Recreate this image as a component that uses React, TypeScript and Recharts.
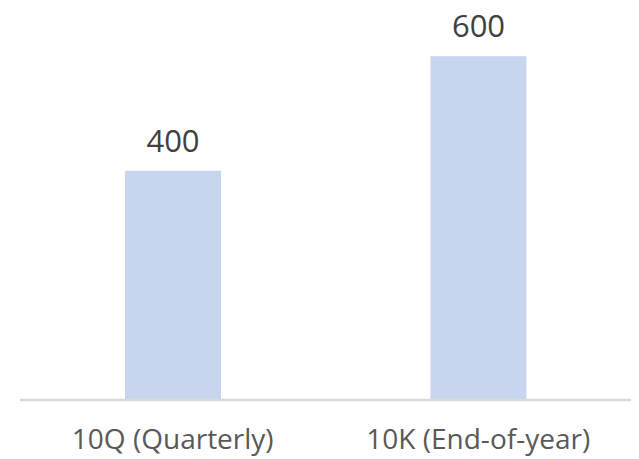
import {Bar, BarChart, LabelList, XAxis, YAxis} from "recharts";

const categories = ["10Q (Quarterly)", "10K (End-of-year)"];
const values = [400, 600];

const data = categories.map((name, i) => ({name, value: values[i]}));

export default function App() {
    return (
        <div style={{position: "absolute", top: 0, left: 0, width: 639, height: 459, fontFamily: "'Open Sans', sans-serif"}}>
            <BarChart
                width={639}
                height={459}
                data={data}
                margin={{top: 27.5, right: 8, bottom: 0, left: 20}}
            >
                <XAxis
                    dataKey="name"
                    height={59}
                    tickLine={false}
                    tickSize={0}
                    tickMargin={29}
                    axisLine={{stroke: "#D9D9D9", strokeWidth: 2.5}}
                    tick={{fill: "#595959", fontSize: 28}}
                    interval={0}
                />
                <YAxis hide domain={[0, 650]} />
                <Bar dataKey="value" fill="#C8D5EE" barSize={96} isAnimationActive={false}>
                    <LabelList dataKey="value" position="top" offset={19} fill="#404040" fontSize={31} />
                </Bar>
            </BarChart>
        </div>
    )
}
